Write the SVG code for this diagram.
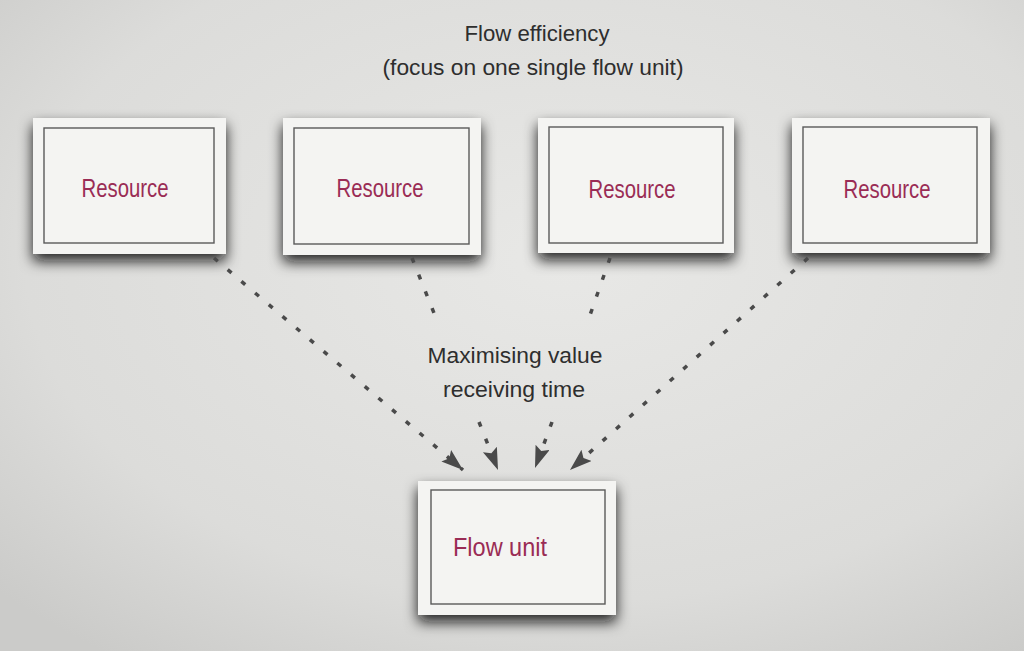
<svg xmlns="http://www.w3.org/2000/svg" width="1024" height="651" viewBox="0 0 1024 651">
  <defs>
    <radialGradient id="bg" cx="0.55" cy="0.4" r="0.75">
      <stop offset="0" stop-color="#e8e8e6"/>
      <stop offset="0.7" stop-color="#dcdcda"/>
      <stop offset="1" stop-color="#cbcbc9"/>
    </radialGradient>
    <filter id="shadow" x="-20%" y="-20%" width="140%" height="150%">
      <feDropShadow dx="0" dy="7" stdDeviation="7" flood-color="#111" flood-opacity="0.9"/>
    </filter>
    <marker id="arrow" markerUnits="userSpaceOnUse" markerWidth="24" markerHeight="16" refX="22" refY="7.5" orient="auto">
      <path d="M0,0 L22,7.5 L0,15 L4,7.5 z" fill="#4a4a4a"/>
    </marker>
    <style>
      .outer { fill: #f4f4f2; filter: url(#shadow); }
      .inner { fill: none; stroke: #5a5a5a; stroke-width: 1.4; }
      .label { font-family: "Liberation Sans", Arial, sans-serif; font-size: 25px; fill: #9a2c55; text-anchor: middle; }
      .note { font-family: "Liberation Sans", Arial, sans-serif; font-size: 22px; fill: #2e2e2e; text-anchor: middle; }
      .conn { fill: none; stroke: #4a4a4a; stroke-width: 3.5; stroke-dasharray: 5 13; marker-end: url(#arrow); }
    </style>
  </defs>

  <rect x="0" y="0" width="1024" height="651" fill="url(#bg)"/>

  <g id="title">
    <text class="note" x="537" y="41" textLength="145" lengthAdjust="spacingAndGlyphs">Flow efficiency</text>
    <text class="note" x="533" y="75" textLength="301" lengthAdjust="spacingAndGlyphs">(focus on one single flow unit)</text>
  </g>

  <g id="resource1">
    <rect class="outer" x="33" y="118" width="193" height="136"/>
    <rect class="inner" x="44" y="128" width="170" height="115"/>
    <text class="label" x="125" y="197" textLength="87" lengthAdjust="spacingAndGlyphs">Resource</text>
  </g>
  <g id="resource2">
    <rect class="outer" x="283" y="118" width="198" height="137"/>
    <rect class="inner" x="294" y="128" width="175" height="116"/>
    <text class="label" x="380" y="197" textLength="87" lengthAdjust="spacingAndGlyphs">Resource</text>
  </g>
  <g id="resource3">
    <rect class="outer" x="538" y="118" width="196" height="135"/>
    <rect class="inner" x="549" y="127" width="174" height="116"/>
    <text class="label" x="632" y="198" textLength="87" lengthAdjust="spacingAndGlyphs">Resource</text>
  </g>
  <g id="resource4">
    <rect class="outer" x="792" y="118" width="198" height="135"/>
    <rect class="inner" x="803" y="127" width="174" height="116"/>
    <text class="label" x="887" y="198" textLength="87" lengthAdjust="spacingAndGlyphs">Resource</text>
  </g>

  <g id="flowunit">
    <rect class="outer" x="418" y="481" width="198" height="134"/>
    <rect class="inner" x="431" y="490" width="174" height="114"/>
    <text class="label" x="500" y="556" textLength="94" lengthAdjust="spacingAndGlyphs">Flow unit</text>
  </g>

  <g id="connectors">
    <path class="conn" d="M214,258 L463,470"/>
    <path class="conn" d="M412,258 L436,318 M479,422 L498,470"/>
    <path class="conn" d="M610,258 L589,318 M552,422 L535,468"/>
    <path class="conn" d="M808,258 L570,470"/>
  </g>

  <g id="connector-label">
    <text class="note" x="515" y="363" textLength="175" lengthAdjust="spacingAndGlyphs">Maximising value</text>
    <text class="note" x="514" y="397" textLength="142" lengthAdjust="spacingAndGlyphs">receiving time</text>
  </g>
</svg>
